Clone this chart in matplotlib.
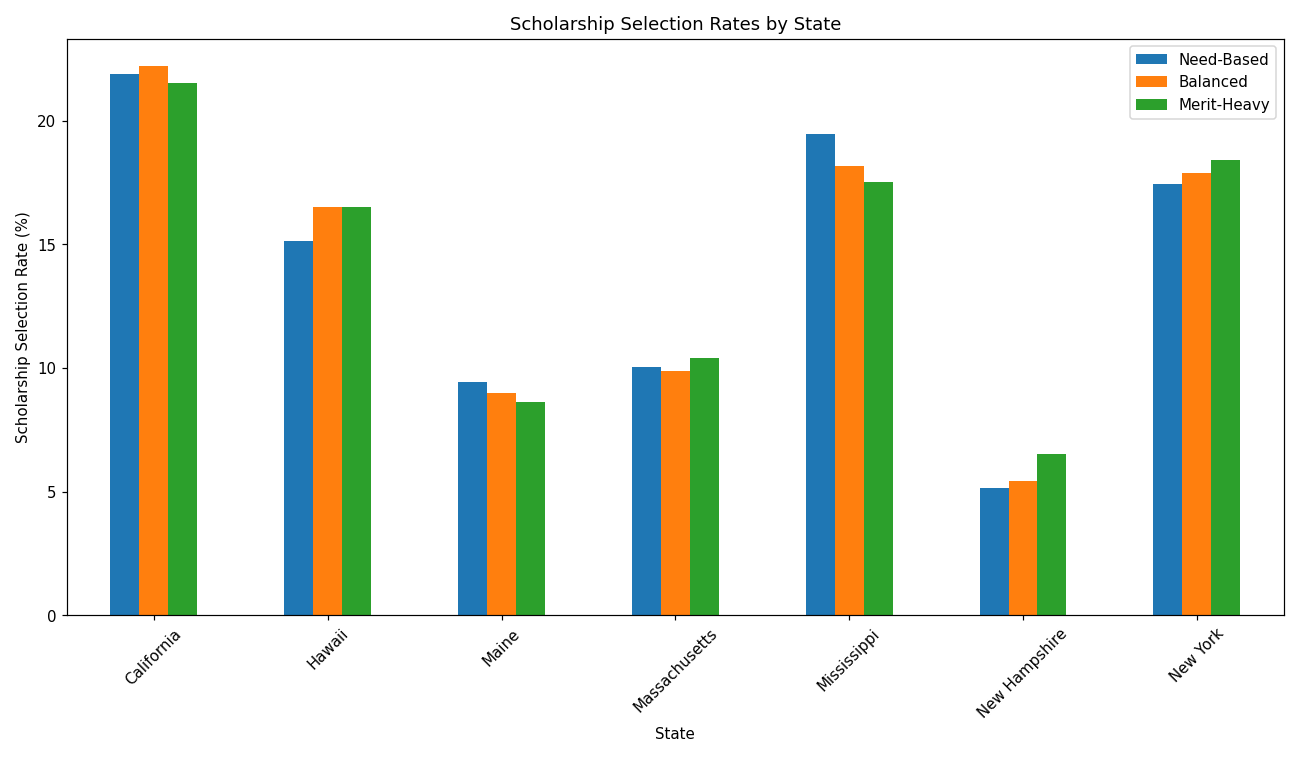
import matplotlib
matplotlib.use("Agg")
import matplotlib.pyplot as plt
import numpy as np

states = ['California', 'Hawaii', 'Maine', 'Massachusetts', 'Mississippi',
          'New Hampshire', 'New York']
need_based = [21.9, 15.13, 9.45, 10.02, 19.47, 5.15, 17.44]
balanced = [22.19, 16.51, 8.97, 9.86, 18.17, 5.44, 17.89]
merit_heavy = [21.5, 16.51, 8.64, 10.39, 17.53, 6.53, 18.42]

series = [('Need-Based', need_based, '#1f77b4'),
          ('Balanced', balanced, '#ff7f0e'),
          ('Merit-Heavy', merit_heavy, '#2ca02c')]

fig, ax = plt.subplots(figsize=(12, 7), dpi=1300 / 12)
x = np.arange(len(states))
w = 0.5 / 3
for i, (name, vals, col) in enumerate(series):
    ax.bar(x + (i - 1) * w, vals, w, label=name, color=col)

ax.set_xticks(x)
ax.set_xticklabels(states, rotation=45)
ax.set_xlim(-0.5, len(states) - 0.5)
ax.set_xlabel('State')
ax.set_ylabel('Scholarship Selection Rate (%)')
ax.set_title('Scholarship Selection Rates by State')
ax.legend()
plt.tight_layout()
plt.savefig('out.png')
